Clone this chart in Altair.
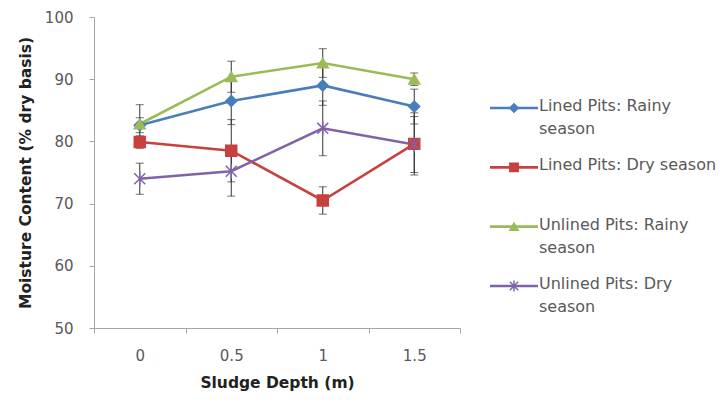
import altair as alt
import pandas as pd

depths = ["0", "0.5", "1", "1.5"]
series_names = [
    "Lined Pits: Rainy season",
    "Lined Pits: Dry season",
    "Unlined Pits: Rainy season",
    "Unlined Pits: Dry season",
]
legend_labels = [
    "Lined Pits: Rainy\nseason",
    "Lined Pits: Dry season",
    "Unlined Pits: Rainy\nseason",
    "Unlined Pits: Dry\nseason",
]
lined_rainy = [82.6, 86.5, 89.0, 85.6]
lined_rainy_err = [1.2, 3.8, 3.2, 2.8]
lined_dry = [79.9, 78.5, 70.5, 79.6]
lined_dry_err = [1.0, 5.0, 2.2, 5.0]
unlined_rainy = [82.8, 90.4, 92.6, 90.0]
unlined_rainy_err = [3.1, 2.5, 2.3, 1.0]
unlined_dry = [74.0, 75.2, 82.1, 79.5]
unlined_dry_err = [2.5, 4.0, 4.4, 4.5]
y_ticks = [50, 60, 70, 80, 90, 100]

colors = ["#4A7EBB", "#C8413E", "#9BBB59", "#7F63A8"]
star = "M-1,-1L1,1M-1,1L1,-1M0,-1.3L0,1.3"
shapes = ["diamond", "square", "triangle-up", star]

values = [lined_rainy, lined_dry, unlined_rainy, unlined_dry]
errors = [lined_rainy_err, lined_dry_err, unlined_rainy_err, unlined_dry_err]
rows = []
for name, vals, errs in zip(series_names, values, errors):
    for d, v, e in zip(depths, vals, errs):
        rows.append({"series": name, "depth": d, "value": v, "lo": v - e, "hi": v + e})
df = pd.DataFrame(rows)

FONT = "DejaVu Sans"
color_scale = alt.Scale(domain=series_names, range=colors)
shape_scale = alt.Scale(domain=series_names, range=shapes)

x = alt.X(
    "depth:N",
    sort=depths,
    scale=alt.Scale(type="band", paddingInner=0, paddingOuter=0),
    axis=alt.Axis(
        title="Sludge Depth (m)", labelAngle=0, tickBand="extent", tickSize=5,
        labelPadding=15, titlePadding=12, domainColor="#A6A6A6", tickColor="#A6A6A6",
        labelColor="#595959", labelFont=FONT, labelFontSize=15,
        titleFont=FONT, titleFontSize=15.5, titleFontWeight="bold", titleColor="#222222",
        grid=False,
    ),
)
y_scale = alt.Scale(domain=[50, 100], nice=False, zero=False)
y_axis = alt.Axis(
    title="Moisture Content (% dry basis)", values=y_ticks, tickSize=5, labelPadding=16,
    titlePadding=11, domainColor="#A6A6A6", tickColor="#A6A6A6", labelColor="#595959",
    labelFont=FONT, labelFontSize=15, titleFont=FONT, titleFontSize=15.5,
    titleFontWeight="bold", titleColor="#222222", grid=False,
)
col = alt.Color("series:N", scale=color_scale, legend=None)

base = alt.Chart(df)
lines = base.mark_line(strokeWidth=2.6).encode(
    x=x, y=alt.Y("value:Q", scale=y_scale, axis=y_axis), color=col, detail="series:N"
)
bars = base.mark_rule(color="#333333", strokeWidth=1).encode(
    x=x, y=alt.Y("lo:Q", scale=y_scale), y2="hi:Q"
)
caps_lo = base.mark_tick(color="#333333", thickness=1, size=8).encode(
    x=x, y=alt.Y("lo:Q", scale=y_scale)
)
caps_hi = base.mark_tick(color="#333333", thickness=1, size=8).encode(
    x=x, y=alt.Y("hi:Q", scale=y_scale)
)
points = base.mark_point(filled=True, size=120, strokeWidth=1.5, opacity=1).encode(
    x=x, y=alt.Y("value:Q", scale=y_scale), color=col,
    stroke=alt.Stroke("series:N", scale=color_scale, legend=None),
    shape=alt.Shape("series:N", scale=shape_scale, legend=None),
)
main = alt.layer(lines, bars, caps_lo, caps_hi, points).properties(width=366, height=311)

leg_df = pd.DataFrame({"series": series_names, "label": legend_labels})
ly = alt.Y(
    "series:N",
    scale=alt.Scale(type="point", domain=series_names, range=[91, 269], padding=0),
    axis=None,
)
leg_base = alt.Chart(leg_df)
leg_rule = leg_base.mark_rule(strokeWidth=2.6).encode(
    x=alt.value(29), x2=alt.value(77), y=ly, color=col
)
leg_pt = leg_base.mark_point(filled=True, size=70, strokeWidth=1.5, opacity=1).encode(
    x=alt.value(53), y=ly, color=col,
    stroke=alt.Stroke("series:N", scale=color_scale, legend=None),
    shape=alt.Shape("series:N", scale=shape_scale, legend=None),
)
leg_text = leg_base.mark_text(
    align="left", baseline="top", dy=-10, lineBreak="\n", lineHeight=23,
    font=FONT, fontSize=16, color="#595959",
).encode(x=alt.value(78), y=ly, text="label:N")
legend = alt.layer(leg_rule, leg_pt, leg_text).properties(width=160, height=311)

chart = (
    alt.hconcat(main, legend, spacing=0)
    .properties(padding={"left": 10, "top": 2, "right": 0, "bottom": 0}, background="white")
    .configure_view(stroke=None)
)
chart.save("out.html", embed_options={"renderer": "svg", "actions": False})
